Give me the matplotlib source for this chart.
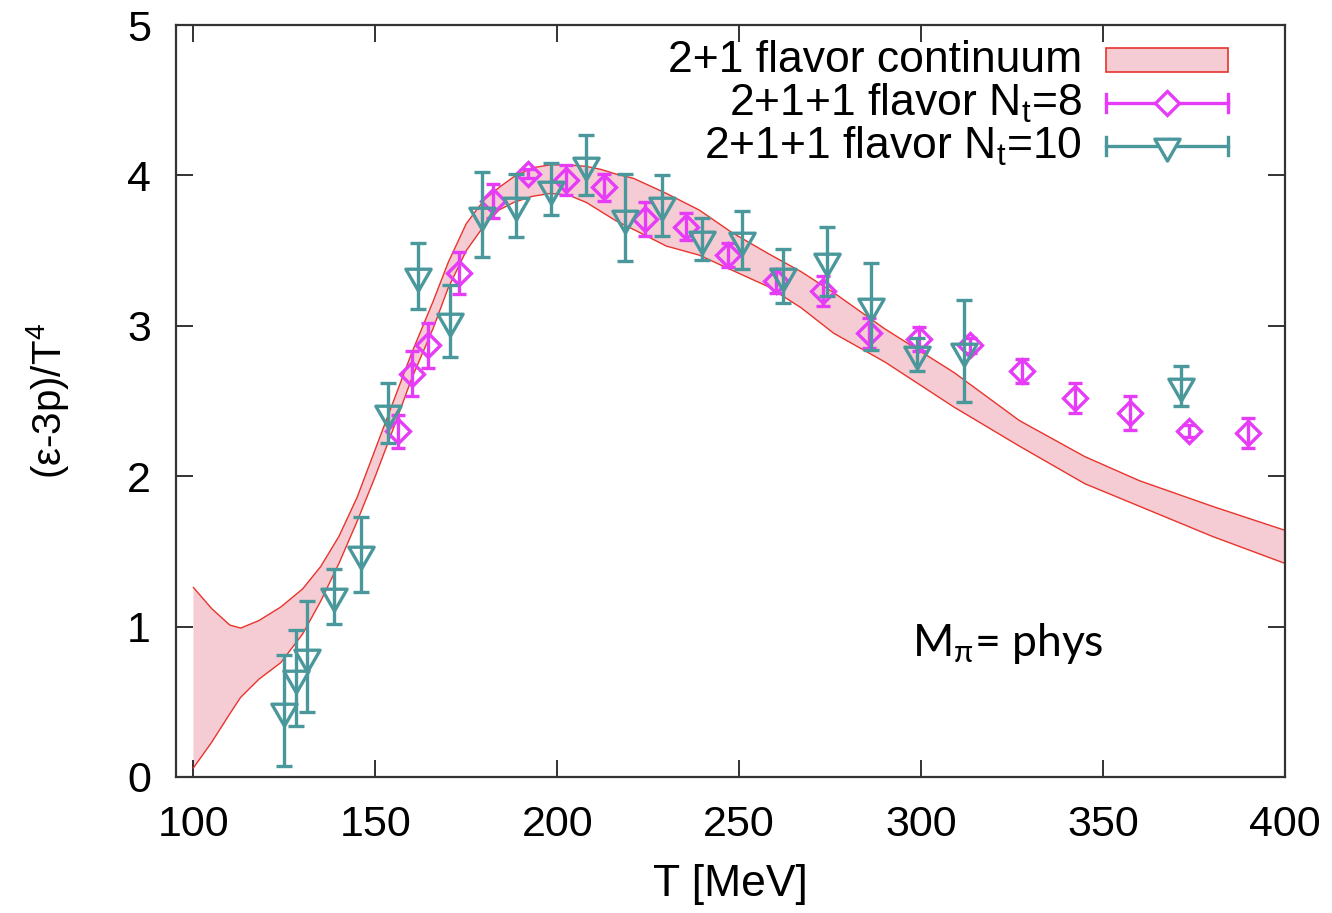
import numpy as np
import matplotlib
matplotlib.use('Agg')
import matplotlib.pyplot as plt
from matplotlib.path import Path

plt.rcParams['font.family'] = ['Liberation Sans', 'DejaVu Sans']
plt.rcParams['mathtext.fontset'] = 'custom'
plt.rcParams['mathtext.rm'] = 'Liberation Sans'
plt.rcParams['mathtext.it'] = 'Liberation Sans:italic'
plt.rcParams['mathtext.default'] = 'regular'

# 2+1 flavor continuum band
T_band = [100, 105, 110, 113, 118, 124, 130, 135, 140, 145, 150, 155, 160, 166,
          170, 175, 180, 184, 188, 193, 198, 203, 208, 212, 216, 221, 230, 239,
          248, 258, 267, 276, 290, 309, 327, 345, 360, 380, 400]
band_hi = [1.26, 1.12, 1.01, 0.99, 1.04, 1.13, 1.25, 1.40, 1.60, 1.86, 2.18, 2.50,
           2.82, 3.17, 3.42, 3.68, 3.84, 3.92, 3.99, 4.05, 4.07, 4.07, 4.06, 4.04,
           4.01, 3.98, 3.88, 3.77, 3.62, 3.48, 3.36, 3.22, 2.98, 2.69, 2.37, 2.13,
           1.97, 1.80, 1.64]
band_lo = [0.06, 0.23, 0.42, 0.53, 0.65, 0.76, 0.95, 1.17, 1.42, 1.70, 2.00, 2.32,
           2.65, 2.99, 3.25, 3.50, 3.67, 3.77, 3.82, 3.86, 3.88, 3.87, 3.82, 3.76,
           3.70, 3.64, 3.53, 3.47, 3.37, 3.26, 3.12, 2.95, 2.76, 2.46, 2.20, 1.95,
           1.80, 1.60, 1.42]

# 2+1+1 flavor Nt=8
T8 = [156.2, 160.0, 164.5, 173.0, 182.4, 192.0, 202.3, 212.8, 224.1, 235.3, 247.0,
      260.1, 273.0, 285.8, 299.5, 313.3, 327.6, 342.3, 357.4, 373.5, 389.8]
y8 = [2.30, 2.68, 2.87, 3.35, 3.83, 4.01, 3.97, 3.92, 3.71, 3.66, 3.47,
      3.30, 3.23, 2.95, 2.91, 2.87, 2.70, 2.52, 2.42, 2.30, 2.29]
e8 = [0.11, 0.15, 0.15, 0.14, 0.11, 0.03, 0.10, 0.09, 0.11, 0.09, 0.08,
      0.08, 0.10, 0.10, 0.08, 0.05, 0.08, 0.10, 0.11, 0.04, 0.10]

# 2+1+1 flavor Nt=10
T10 = [125.0, 128.2, 131.1, 138.6, 146.0, 153.6, 161.8, 170.5, 179.2, 188.6, 198.3,
       207.9, 218.6, 228.8, 239.7, 250.7, 262.1, 274.1, 286.2, 298.8, 311.9, 371.5]
y10 = [0.44, 0.66, 0.80, 1.20, 1.48, 2.42, 3.33, 3.03, 3.74, 3.80, 3.91,
       4.07, 3.72, 3.80, 3.58, 3.57, 3.33, 3.43, 3.13, 2.81, 2.83, 2.60]
e10 = [0.37, 0.32, 0.37, 0.18, 0.25, 0.20, 0.22, 0.24, 0.28, 0.21, 0.17,
       0.20, 0.29, 0.20, 0.14, 0.19, 0.18, 0.23, 0.29, 0.11, 0.34, 0.13]

xticks = [100, 150, 200, 250, 300, 350, 400]
yticks = [0, 1, 2, 3, 4, 5]

pink = '#f5ccd3'
red = '#e8342c'
mag = '#e63cf8'
teal = '#4b989c'

# inverted triangle, centred on its centroid like gnuplot
tri = Path([(-1, 0.577), (1, 0.577), (0, -1.155), (-1, 0.577)],
           [Path.MOVETO, Path.LINETO, Path.LINETO, Path.CLOSEPOLY])

fig = plt.figure(figsize=(13.32, 9.13), dpi=100)
ax = fig.add_axes([0.1321, 0.149, 0.8326, 0.8236])

ax.fill_between(T_band, band_lo, band_hi, facecolor=pink, edgecolor='none', zorder=1)
ax.plot(T_band, band_hi, color=red, lw=1.0, zorder=2)
ax.plot(T_band, band_lo, color=red, lw=1.0, zorder=2)

ax.errorbar(T8, y8, yerr=e8, fmt='D', ms=12, mfc='none', mec=mag, mew=2.4,
            ecolor=mag, elinewidth=2.4, capsize=5, capthick=2.4, zorder=3)
ax.errorbar(T10, y10, yerr=e10, fmt='none', ecolor=teal, elinewidth=2.4,
            capsize=6, capthick=2.4, zorder=4)
ax.plot(T10, y10, ls='none', marker=tri, ms=21, mfc='none', mec=teal, mew=2.4, zorder=4)

ax.set_xlim(95.2, 400)
ax.set_ylim(0, 5)
ax.set_xticks(xticks)
ax.set_yticks(yticks)
ax.tick_params(direction='in', length=12, width=1.3, top=True, right=True,
               labelsize=31, color='#222222')
ax.tick_params(axis='x', pad=20)
ax.tick_params(axis='y', pad=18)
for s in ax.spines.values():
    s.set_linewidth(1.6)
    s.set_color('#333333')

ax.set_xlabel('T [MeV]', fontsize=32, labelpad=14)
ax.set_ylabel(r'(ε-3p)/T$^4$', fontsize=29, labelpad=40)

# legend, drawn gnuplot-style
labels = ['2+1 flavor continuum', r'2+1+1 flavor N$_t$=8', r'2+1+1 flavor N$_t$=10']
rows = [0.953, 0.896, 0.839]
for lab, yr in zip(labels, rows):
    ax.text(0.817, yr, lab, transform=ax.transAxes, ha='right', va='center', fontsize=32)
ax.add_patch(plt.Rectangle((0.839, rows[0] - 0.016), 0.110, 0.032, transform=ax.transAxes,
                           facecolor=pink, edgecolor=red, lw=1.2))
for yr, col, mk, ms in [(rows[1], mag, 'D', 12), (rows[2], teal, tri, 21)]:
    ax.plot([0.839, 0.949], [yr, yr], transform=ax.transAxes, color=col, lw=2.4)
    for xe in (0.839, 0.949):
        ax.plot([xe, xe], [yr - 0.012, yr + 0.012], transform=ax.transAxes, color=col, lw=2.4)
    ax.plot([0.894], [yr], transform=ax.transAxes, marker=mk, ms=ms, mfc='white',
            mec=col, mew=2.4)

ax.text(0.664, 0.178, r'M$_{\pi}$= phys', transform=ax.transAxes, fontsize=32,
        family=['Lato', 'DejaVu Sans'], ha='left', va='center')

fig.savefig('out.png', dpi=100)
